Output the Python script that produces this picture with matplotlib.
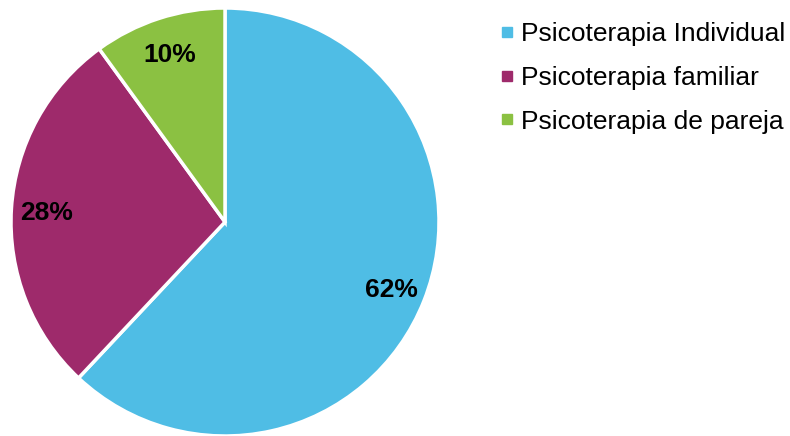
import matplotlib
matplotlib.use("Agg")
import matplotlib.pyplot as plt
from matplotlib.lines import Line2D

plt.rcParams['font.family'] = ['Liberation Sans', 'DejaVu Sans']

categories = ["Psicoterapia Individual", "Psicoterapia familiar", "Psicoterapia de pareja"]
values = [62, 28, 10]
colors = ["#4FBDE5", "#9E2A6B", "#8BC142"]

fig = plt.figure(figsize=(7.9, 4.36), dpi=100)
W, H = 790, 436
cx, cy, r = 225, 222, 214
ax = fig.add_axes([(cx - r) / W, (H - cy - r) / H, 2 * r / W, 2 * r / H])

wedges, texts, autotexts = ax.pie(
    values, colors=colors, startangle=90, counterclock=False,
    autopct=lambda p: f"{p:.0f}%", pctdistance=0.835,
    wedgeprops=dict(edgecolor="white", linewidth=2.5),
    textprops=dict(fontsize=19, fontweight="bold", color="black"))
for t in autotexts:
    t.set_va("center_baseline")
ax.set_xlim(-1, 1)
ax.set_ylim(-1, 1)
ax.set_aspect("equal")

handles = [Line2D([0], [0], marker='s', linestyle='none', markersize=6.5,
                  markerfacecolor=c, markeredgecolor=c) for c in colors]
fig.legend(handles, categories, loc="upper left", bbox_to_anchor=(501.7 / W, 1 - 22 / H),
           frameon=False, fontsize=19, handlelength=0.4, handletextpad=0.33,
           labelspacing=0.75, borderpad=0, borderaxespad=0)

fig.savefig("out.png", dpi=100)
